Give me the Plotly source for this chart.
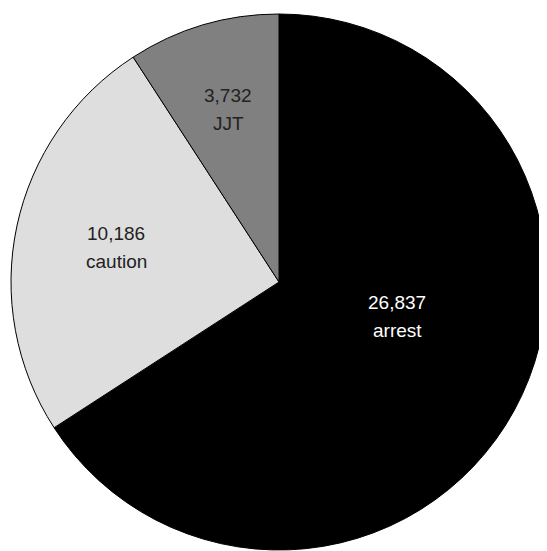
import math
import plotly.graph_objects as go

labels = ["arrest", "caution", "JJT"]
values = [26837, 10186, 3732]

# styling
colors = ["#000000", "#dedede", "#808080"]
text_colors = ["#ffffff", "#222222", "#222222"]
label_radius = [0.46, 0.62, 0.67]      # fraction of pie radius
label_angle_shift = [-12.5, 0.0, 0.0]  # degrees
FONT = "Liberation Sans, Arial, sans-serif"

fig = go.Figure(go.Pie(
    labels=labels,
    values=values,
    sort=False,
    direction="clockwise",
    rotation=0,
    marker=dict(colors=colors, line=dict(color="#000000", width=1)),
    textinfo="none",
    hoverinfo="label+value",
    showlegend=False,
    domain=dict(x=[0, 1], y=[0, 1]),
))

total = sum(values)
cum = 0.0
annotations = []
for i, (lab, val) in enumerate(zip(labels, values)):
    mid = (cum + val / 2) / total * 360.0 + label_angle_shift[i]
    cum += val
    a = math.radians(mid)
    xp = 0.5 + 0.5 * label_radius[i] * math.sin(a)
    yp = 0.5 + 0.5 * label_radius[i] * math.cos(a)
    for txt, shift in ((f"{val:,}", 14), (lab, -14)):
        annotations.append(dict(x=xp, y=yp, xref="paper", yref="paper",
                                xanchor="center", yanchor="middle",
                                text=txt, showarrow=False, yshift=shift,
                                font=dict(family=FONT, size=19, color=text_colors[i])))

fig.update_layout(
    width=547,
    height=551,
    margin=dict(l=3, r=8, t=6, b=9),
    paper_bgcolor="#ffffff",
    plot_bgcolor="#ffffff",
    showlegend=False,
    annotations=annotations,
)

fig.write_html("out.html")
